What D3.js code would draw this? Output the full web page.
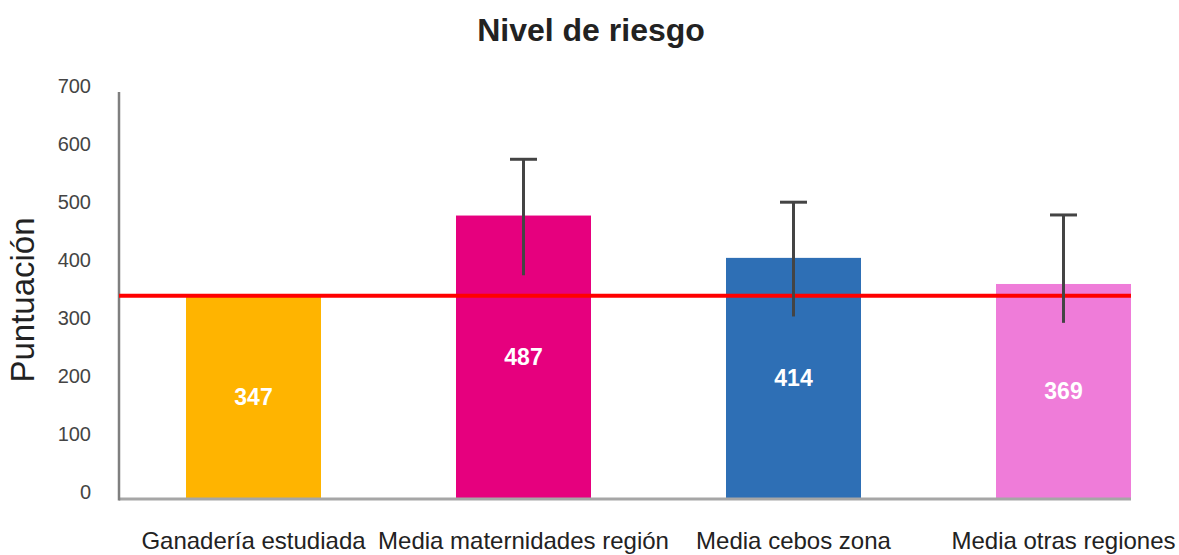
<!DOCTYPE html>
<html>
<head>
<meta charset="utf-8">
<script src="https://cdn.jsdelivr.net/npm/d3@7"></script>
<style>
  body { margin: 0; background: #fff; }
  svg { display: block; font-family: "Liberation Sans", Arial, sans-serif; }
</style>
</head>
<body>
<svg id="chart" width="1179" height="555"></svg>
<script>
// data
const categories = ["Ganadería estudiada", "Media maternidades región", "Media cebos zona", "Media otras regiones"];
const values = [347, 487, 414, 369];
const errLow = [null, 384, 313, 302];
const errHigh = [null, 584, 510, 488];
const barColors = ["#FFB400", "#E6007E", "#2E6FB5", "#EF7CD9"];
const refValue = 347; // red line = studied farm
const yTicks = [0, 100, 200, 300, 400, 500, 600, 700];

const svg = d3.select("#chart");

const x = d3.scaleBand()
    .domain(categories)
    .range([118.5, 1198.5])
    .paddingInner(0.5)
    .paddingOuter(0.25);

const y = d3.scaleLinear()
    .domain([0, 700])
    .range([498, 92]);

//Title
svg.append("text")
    .attr("x", 591).attr("y", 41)
    .attr("text-anchor", "middle")
    .style("font-size", "32px").style("font-weight", "bold")
    .style("fill", "#222")
    .text("Nivel de riesgo");

//Y axis title
svg.append("text")
    .attr("transform", "translate(34,300) rotate(-90)")
    .attr("text-anchor", "middle")
    .style("font-size", "33px").style("fill", "#222")
    .text("Puntuación");

//Y tick labels (no tick marks in the original)
svg.append("g")
    .selectAll("text")
    .data(yTicks)
    .join("text")
    .attr("x", 91)
    .attr("y", d => y(d) - 6)
    .attr("dy", "0.35em")
    .attr("text-anchor", "end")
    .style("font-size", "20px").style("fill", "#444")
    .text(d => d);

//Bars
svg.append("g")
    .selectAll("rect")
    .data(values)
    .join("rect")
    .attr("x", (d, i) => x(categories[i]))
    .attr("y", d => y(d))
    .attr("width", x.bandwidth())
    .attr("height", d => y(0) - y(d))
    .attr("fill", (d, i) => barColors[i]);

//Axis lines
const lastBand = x(categories[categories.length - 1]) + x.bandwidth();
svg.append("line")
    .attr("x1", 119).attr("x2", lastBand)
    .attr("y1", y(0) + 1).attr("y2", y(0) + 1)
    .attr("stroke", "#A6A6A6").attr("stroke-width", 3);
svg.append("line")
    .attr("x1", 119).attr("x2", 119)
    .attr("y1", y(700)).attr("y2", y(0) + 2.5)
    .attr("stroke", "#7F7F7F").attr("stroke-width", 2.5);

//Reference line
svg.append("line")
    .attr("x1", 119).attr("x2", lastBand)
    .attr("y1", y(refValue) - 1).attr("y2", y(refValue) - 1)
    .attr("stroke", "#FF0000").attr("stroke-width", 4);

//Error bars
const eb = svg.append("g")
    .selectAll("g")
    .data(values.map((v, i) => ({i, lo: errLow[i], hi: errHigh[i]})).filter(d => d.hi != null))
    .join("g")
    .attr("stroke", "#444").attr("stroke-width", 3);
eb.append("line")
    .attr("x1", d => x(categories[d.i]) + x.bandwidth() / 2)
    .attr("x2", d => x(categories[d.i]) + x.bandwidth() / 2)
    .attr("y1", d => y(d.lo)).attr("y2", d => y(d.hi));
eb.append("line")
    .attr("x1", d => x(categories[d.i]) + x.bandwidth() / 2 - 13.5)
    .attr("x2", d => x(categories[d.i]) + x.bandwidth() / 2 + 13.5)
    .attr("y1", d => y(d.hi)).attr("y2", d => y(d.hi));

//Value labels
svg.append("g")
    .selectAll("text")
    .data(values)
    .join("text")
    .attr("x", (d, i) => x(categories[i]) + x.bandwidth() / 2)
    .attr("y", d => y(d / 2))
    .attr("dy", "0.35em")
    .attr("text-anchor", "middle")
    .style("font-size", "23px").style("font-weight", "bold")
    .style("fill", "#fff")
    .text(d => d);

//Category labels
svg.append("g")
    .selectAll("text")
    .data(categories)
    .join("text")
    .attr("x", d => x(d) + x.bandwidth() / 2)
    .attr("y", 549)
    .attr("text-anchor", "middle")
    .style("font-size", "24px").style("fill", "#222")
    .text(d => d);
</script>
</body>
</html>
